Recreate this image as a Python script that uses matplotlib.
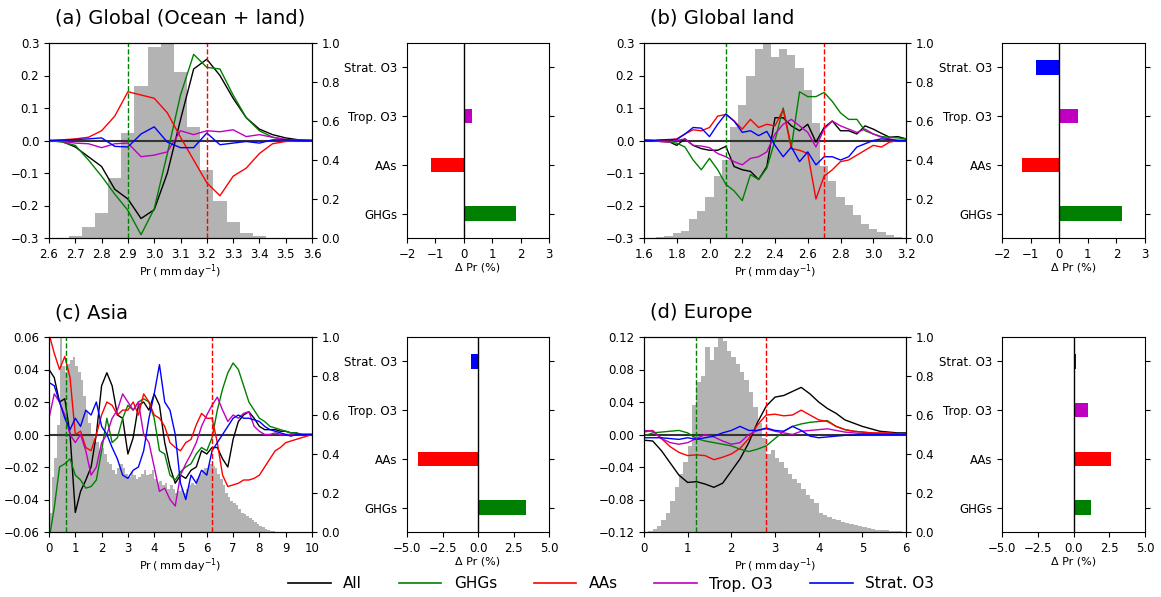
import numpy as np
import matplotlib.pyplot as plt

FIG_W, FIG_H = 1161, 597

SERIES = ["All", "GHGs", "AAs", "Trop. O3", "Strat. O3"]
COLORS = ["black", "green", "red", "#c000c0", "blue"]
BAR_LABELS = ["GHGs", "AAs", "Trop. O3", "Strat. O3"]
BAR_COLORS = ["green", "red", "#c000c0", "blue"]

# ---- (a) Global (Ocean + land) ----
a_x = np.round(np.arange(2.60, 3.6001, 0.05), 2)
a_all = [0, -0.003, -0.02, -0.05, -0.08, -0.15, -0.18, -0.24, -0.213, -0.10, 0.064,
         0.22, 0.25, 0.20, 0.13, 0.07, 0.035, 0.018, 0.008, 0.002, 0]
a_ghg = [0, -0.005, -0.015, -0.06, -0.11, -0.165, -0.215, -0.29, -0.21, -0.04, 0.14,
         0.265, 0.225, 0.22, 0.14, 0.07, 0.03, 0.01, 0.003, 0, 0]
a_aas = [0, 0.002, 0.005, 0.01, 0.03, 0.075, 0.15, 0.14, 0.13, 0.085, 0.01,
         -0.06, -0.13, -0.17, -0.11, -0.085, -0.04, -0.01, -0.003, -0.001, 0]
a_trop = [0, -0.003, -0.008, -0.01, -0.022, -0.01, -0.008, -0.05, -0.045, -0.035, 0.03,
          0.018, 0.03, 0.027, 0.033, 0.012, 0.018, 0.01, 0.003, 0.001, 0]
a_strat = [0, 0.001, 0.003, 0.005, 0.008, -0.018, -0.02, 0.02, 0.042, -0.005, -0.022,
           -0.022, 0.023, -0.013, -0.008, -0.003, -0.008, 0.002, 0.002, 0, 0]
a_hist_x = np.round(np.arange(2.70, 3.4001, 0.05), 2)
a_hist = [0.01, 0.055, 0.13, 0.31, 0.54, 0.78, 0.98, 1.0, 0.85, 0.57, 0.35, 0.19,
          0.08, 0.025, 0.008]
a_bars = [1.85, -1.15, 0.3, 0.0]
a_vlines = [2.9, 3.2]

# ---- (b) Global land ----
b_x = np.round(np.arange(1.60, 3.2001, 0.05), 2)
b_all = [0, 0, -0.003, -0.003, -0.015, 0.005, -0.015, -0.025, -0.03, -0.03, -0.018,
         -0.08, -0.09, -0.095, -0.12, -0.08, 0.07, 0.07, 0.045, 0.03, 0.05, -0.005,
         0.04, 0.06, 0.03, 0.03, 0.02, 0.045, 0.035, 0.022, 0.01, 0.012, 0.005]
b_ghg = [0, 0, -0.002, -0.005, -0.008, -0.02, -0.06, -0.09, -0.055, -0.09, -0.135,
         -0.155, -0.185, -0.105, -0.12, -0.085, 0.0, 0.1, -0.02, 0.15, 0.135, 0.135,
         0.148, 0.12, 0.085, 0.065, 0.065, 0.03, 0.02, 0.012, 0.01, 0.008, 0.005]
b_aas = [0.003, 0, 0, 0.002, 0.005, 0.02, 0.033, 0.03, 0.04, 0.075, 0.08,
         0.06, 0.035, 0.065, 0.04, 0.05, 0.045, 0.095, -0.025, -0.03, -0.04, -0.18,
         -0.11, -0.09, -0.065, -0.06, -0.045, -0.03, -0.015, -0.02, -0.005, 0, 0]
b_trop = [0, 0, -0.003, -0.005, 0, 0.005, -0.015, -0.017, -0.022, -0.04, -0.05,
          -0.065, -0.075, -0.055, -0.05, -0.035, 0.02, 0.05, 0.065, 0.045, 0.025, -0.02,
          0.035, 0.06, 0.045, 0.035, 0.025, 0.035, 0.02, 0.01, 0.005, 0, 0]
b_strat = [0, 0, 0.002, 0.003, 0.003, 0.02, 0.04, 0.038, 0.012, 0.05, 0.082,
           0.06, 0.025, 0.03, 0.015, 0.028, -0.015, -0.05, -0.02, -0.065, -0.035, -0.075,
           -0.05, -0.05, -0.06, -0.05, -0.02, -0.01, 0, 0.005, 0.003, 0, 0]
b_hist_x = np.round(np.arange(1.65, 3.1501, 0.05), 2)
b_hist = [0.002, 0.004, 0.01, 0.025, 0.035, 0.1, 0.14, 0.21, 0.32, 0.40, 0.57,
          0.68, 0.83, 0.97, 1.0, 0.93, 0.97, 0.94, 0.87, 0.76, 0.59, 0.37,
          0.29, 0.21, 0.17, 0.12, 0.07, 0.045, 0.03, 0.015, 0.005]
b_bars = [2.2, -1.3, 0.65, -0.8]
b_vlines = [2.1, 2.7]

# ---- (c) Asia ----
c_x = np.round(np.arange(0.0, 10.001, 0.2), 1)
c_all = [0.04, 0.035, 0.02, 0.022, 0.0, -0.048, -0.035, -0.028, -0.02, 0.0, 0.03,
         0.038, 0.03, 0.012, 0.01, -0.012, -0.002, 0.018, 0.02, 0.015, 0.025,
         0.018, -0.005, -0.02, -0.03, -0.025, -0.027, -0.022, -0.02, -0.01, -0.012,
         -0.008, -0.008, -0.015, -0.02, -0.003, 0.008, 0.012, 0.014, 0.01, 0.005,
         0.003, 0.003, 0.003, 0.002, 0.002, 0.001, 0.001, 0, 0, 0]
c_ghg = [-0.065, -0.045, -0.02, -0.018, -0.015, -0.025, -0.028, -0.033, -0.032, -0.028, -0.01,
         0.01, -0.005, -0.002, 0.01, 0.018, 0.015, 0.02, 0.022, 0.02, 0.01,
         -0.01, -0.012, -0.025, -0.028, -0.023, -0.02, -0.018, -0.012, -0.008, -0.01,
         -0.002, 0.015, 0.028, 0.038, 0.044, 0.04, 0.03, 0.02, 0.015, 0.01,
         0.008, 0.005, 0.004, 0.003, 0.002, 0.001, 0.001, 0, 0, 0]
c_aas = [0.062, 0.05, 0.04, 0.048, 0.035, 0.0, 0.002, -0.008, -0.01, 0.0, 0.012,
         0.02, 0.018, 0.012, 0.015, 0.015, 0.02, 0.012, 0.025, 0.02, 0.012,
         0.01, 0.005, -0.005, -0.008, -0.01, -0.005, -0.003, 0.006, 0.013, 0.01,
         0.01, -0.005, -0.025, -0.032, -0.031, -0.03, -0.028, -0.028, -0.027, -0.025,
         -0.02, -0.015, -0.01, -0.008, -0.005, -0.004, -0.003, -0.002, -0.001, 0]
c_trop = [0.01, 0.025, 0.02, 0.012, 0.0, -0.005, 0.0, -0.01, -0.025, -0.02, -0.005,
          0.0, 0.01, 0.015, 0.025, 0.02, 0.015, 0.02, 0.0, -0.005, -0.02,
          -0.035, -0.033, -0.04, -0.044, -0.025, -0.018, -0.012, -0.005, 0.005, 0.012,
          0.018, 0.023, 0.015, 0.008, 0.012, 0.01, 0.013, 0.014, 0.005, 0.002,
          0.0, 0.0, 0.001, 0.0, 0.0, 0, 0, 0, 0, 0]
c_strat = [0.032, 0.03, 0.02, 0.01, 0.003, 0.01, 0.005, 0.015, 0.012, 0.02, 0.005,
           0.0, -0.008, -0.015, -0.025, -0.027, -0.022, -0.02, -0.01, 0.01, 0.025,
           0.043, 0.02, 0.015, 0.0, -0.03, -0.04, -0.025, -0.03, -0.022, -0.025,
           -0.01, -0.005, 0.0, 0.005, 0.01, 0.012, 0.01, 0.01, 0.009, 0.008,
           0.005, 0.003, 0.002, 0.001, 0.0, -0.001, 0, 0, 0, 0]
c_hist_x = np.round(np.arange(0.05, 8.7501, 0.1), 2)
c_hist = [0.1, 0.28, 0.38, 0.55, 1.0, 0.85, 0.82, 0.86, 0.88, 0.9,
          0.85, 0.82, 0.78, 0.7, 0.62, 0.56, 0.5, 0.47, 0.46, 0.42,
          0.43, 0.4, 0.36, 0.35, 0.32, 0.3, 0.33, 0.35, 0.33, 0.3,
          0.28, 0.31, 0.29, 0.27, 0.28, 0.3, 0.32, 0.29, 0.3, 0.32,
          0.27, 0.25, 0.26, 0.24, 0.25, 0.22, 0.24, 0.22, 0.2, 0.21,
          0.22, 0.2, 0.22, 0.24, 0.25, 0.24, 0.27, 0.3, 0.32, 0.33,
          0.33, 0.35, 0.34, 0.33, 0.3, 0.27, 0.24, 0.2, 0.18, 0.16,
          0.15, 0.14, 0.12, 0.1, 0.09, 0.08, 0.07, 0.06, 0.05, 0.04,
          0.03, 0.025, 0.015, 0.01, 0.007, 0.004, 0.002, 0.001]
c_bars = [3.4, -4.2, 0.1, -0.5]
c_vlines = [0.65, 6.2]

# ---- (d) Europe ----
d_x = np.round(np.arange(0.0, 6.001, 0.2), 1)
d_all = [-0.007, -0.008, -0.02, -0.035, -0.05, -0.059, -0.058, -0.061, -0.065, -0.06, -0.045,
         -0.03, -0.01, 0.015, 0.035, 0.046, 0.048, 0.053, 0.058, 0.05, 0.04,
         0.032, 0.026, 0.018, 0.014, 0.01, 0.007, 0.004, 0.003, 0.002, 0.002]
d_ghg = [-0.002, 0.002, 0.003, 0.004, 0.005, 0.002, -0.005, -0.008, -0.01, -0.012, -0.014,
         -0.018, -0.021, -0.018, -0.014, -0.005, 0.004, 0.01, 0.013, 0.015, 0.016,
         0.017, 0.01, 0.006, 0.004, 0.003, 0.002, 0.001, 0.001, 0.0, 0.0]
d_aas = [0.003, 0.005, -0.005, -0.015, -0.022, -0.026, -0.025, -0.026, -0.031, -0.028, -0.024,
         -0.017, -0.005, 0.012, 0.024, 0.025, 0.023, 0.024, 0.03, 0.024, 0.018,
         0.016, 0.01, 0.006, 0.004, 0.003, 0.002, 0.002, 0.002, 0.001, 0.001]
d_trop = [0.005, 0.004, -0.005, -0.01, -0.012, -0.01, -0.005, 0.0, -0.003, -0.008, -0.012,
          -0.01, 0.0, 0.005, 0.007, 0.004, 0.002, 0.0, 0.004, 0.005, 0.006,
          0.007, 0.005, 0.003, 0.002, 0.001, 0.001, 0, 0, 0, 0]
d_strat = [-0.004, -0.004, -0.004, -0.005, -0.006, -0.004, -0.006, -0.004, -0.002, 0.002, 0.005,
           0.01, 0.005, 0.005, 0.008, 0.005, 0.004, 0.01, 0.005, -0.002, -0.004,
           -0.003, -0.002, -0.001, -0.001, 0.0, 0, 0, 0, 0, 0]
d_hist_x = np.round(np.arange(0.05, 5.9501, 0.1), 2)
d_hist = [0.0, 0.005, 0.015, 0.03, 0.06, 0.1, 0.16, 0.23, 0.3, 0.36,
          0.44, 0.65, 0.77, 0.8, 0.95, 0.88, 0.95, 1.0, 0.98, 0.93,
          0.9, 0.86, 0.82, 0.78, 0.72, 0.64, 0.56, 0.48, 0.4, 0.42,
          0.38, 0.36, 0.33, 0.3, 0.27, 0.25, 0.22, 0.19, 0.17, 0.15,
          0.1, 0.085, 0.075, 0.065, 0.06, 0.05, 0.045, 0.04, 0.035, 0.03,
          0.025, 0.02, 0.015, 0.012, 0.01, 0.008, 0.005, 0.004, 0.003, 0.002]
d_bars = [1.2, 2.6, 1.0, 0.2]
d_vlines = [1.2, 2.8]

TICK_FS = 8.5
XLAB = r"Pr$\,$( mm$\,$day$^{-1}$)"


def add_axes_px(fig, left, right, top, bottom):
    return fig.add_axes([left / FIG_W, 1 - bottom / FIG_H,
                         (right - left) / FIG_W, (bottom - top) / FIG_H])


def line_panel(fig, box, x, lines, hx, hv, bw, xlim, xticks, ylim, yticks, vlines):
    ax = add_axes_px(fig, *box)
    ax2 = ax.twinx()
    ax2.bar(hx, hv, width=bw, color="#b3b3b3", linewidth=0)
    ax2.set_ylim(0, 1)
    ax2.set_yticks(np.round(np.arange(0, 1.01, 0.2), 1))
    ax2.tick_params(labelsize=TICK_FS)
    # lines on top of the histogram
    ax.set_zorder(ax2.get_zorder() + 1)
    ax.patch.set_visible(False)

    ax.axhline(0, color="#333333", lw=1.5)
    for vals, c in zip(lines, COLORS):
        ax.plot(x, vals, color=c, lw=1.0)
    ax.axvline(vlines[0], color="green", ls="--", lw=1.0)
    ax.axvline(vlines[1], color="red", ls="--", lw=1.0)
    ax.set_xlim(*xlim)
    ax.set_xticks(xticks)
    ax.set_ylim(*ylim)
    ax.set_yticks(yticks)
    ax.tick_params(labelsize=TICK_FS)
    ax.set_xlabel(XLAB, fontsize=8, labelpad=1)
    return ax


def bar_panel(fig, box, vals, xlim, xticks):
    ax = add_axes_px(fig, *box)
    ypos = np.arange(len(BAR_LABELS))
    ax.barh(ypos, vals, height=0.3, color=BAR_COLORS)
    ax.axvline(0, color="black", lw=1.0)
    ax.set_yticks(ypos)
    ax.set_yticklabels(BAR_LABELS)
    ax.set_ylim(-0.5, 3.5)
    ax.set_xlim(*xlim)
    ax.set_xticks(xticks)
    ax.tick_params(labelsize=TICK_FS, right=True)
    ax.set_xlabel("Δ Pr (%)", fontsize=8, labelpad=1)
    return ax


def main():
    fig = plt.figure(figsize=(FIG_W / 100, FIG_H / 100), dpi=100)

    top_row = (43, 238)
    bot_row = (337, 532)

    line_panel(fig, (49, 312) + top_row, a_x, [a_all, a_ghg, a_aas, a_trop, a_strat],
               a_hist_x, a_hist, 0.05, (2.6, 3.6), np.round(np.arange(2.6, 3.61, 0.1), 1),
               (-0.3, 0.3), np.round(np.arange(-0.3, 0.31, 0.1), 1), a_vlines)
    bar_panel(fig, (407, 549) + top_row, a_bars, (-2, 3), range(-2, 4))

    line_panel(fig, (644, 906) + top_row, b_x, [b_all, b_ghg, b_aas, b_trop, b_strat],
               b_hist_x, b_hist, 0.05, (1.6, 3.2), np.round(np.arange(1.6, 3.21, 0.2), 1),
               (-0.3, 0.3), np.round(np.arange(-0.3, 0.31, 0.1), 1), b_vlines)
    bar_panel(fig, (1002, 1145) + top_row, b_bars, (-2, 3), range(-2, 4))

    line_panel(fig, (49, 312) + bot_row, c_x, [c_all, c_ghg, c_aas, c_trop, c_strat],
               c_hist_x, c_hist, 0.1, (0, 10), range(0, 11),
               (-0.06, 0.06), np.round(np.arange(-0.06, 0.061, 0.02), 2), c_vlines)
    bar_panel(fig, (407, 549) + bot_row, c_bars, (-5, 5), [-5, -2.5, 0, 2.5, 5])

    line_panel(fig, (644, 906) + bot_row, d_x, [d_all, d_ghg, d_aas, d_trop, d_strat],
               d_hist_x, d_hist, 0.1, (0, 6), range(0, 7),
               (-0.12, 0.12), np.round(np.arange(-0.12, 0.121, 0.04), 2), d_vlines)
    bar_panel(fig, (1002, 1145) + bot_row, d_bars, (-5, 5), [-5, -2.5, 0, 2.5, 5])

    titles = [("(a) Global (Ocean + land)", 55, 18), ("(b) Global land", 650, 18),
              ("(c) Asia", 55, 313), ("(d) Europe", 650, 313)]
    for txt, xp, yp in titles:
        fig.text(xp / FIG_W, 1 - yp / FIG_H, txt, fontsize=14, ha="left", va="center")

    handles = [plt.Line2D([], [], color=c, lw=1.2) for c in COLORS]
    fig.legend(handles, SERIES, loc="center", bbox_to_anchor=(611 / FIG_W, 1 - 584 / FIG_H),
               ncol=5, frameon=False, fontsize=11, handlelength=2.8, columnspacing=2.4,
               borderpad=0.1)

    fig.savefig("out.png", dpi=100)


if __name__ == "__main__":
    main()
